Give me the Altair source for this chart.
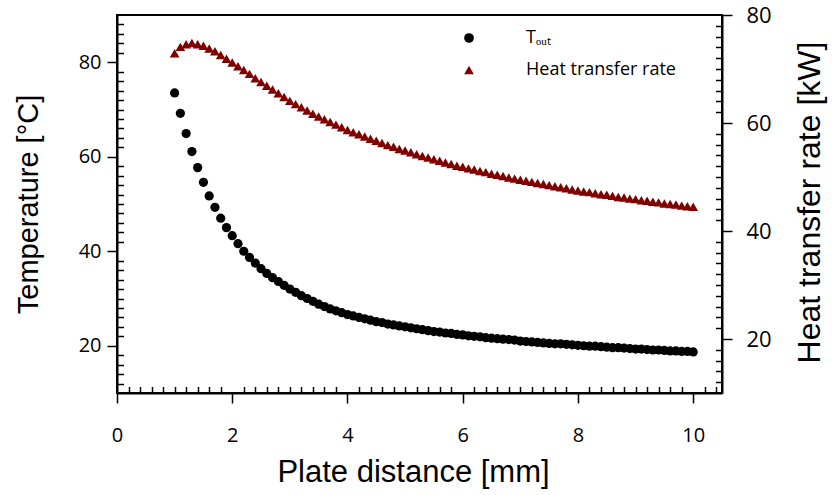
import altair as alt
import pandas as pd

# Plate distance [mm]
distance = [1.0, 1.1, 1.2, 1.3, 1.4, 1.5, 1.6, 1.7, 1.8, 1.9,
            2.0, 2.1, 2.2, 2.3, 2.4, 2.5, 2.6, 2.7, 2.8, 2.9,
            3.0, 3.1, 3.2, 3.3, 3.4, 3.5, 3.6, 3.7, 3.8, 3.9,
            4.0, 4.1, 4.2, 4.3, 4.4, 4.5, 4.6, 4.7, 4.8, 4.9,
            5.0, 5.1, 5.2, 5.3, 5.4, 5.5, 5.6, 5.7, 5.8, 5.9,
            6.0, 6.1, 6.2, 6.3, 6.4, 6.5, 6.6, 6.7, 6.8, 6.9,
            7.0, 7.1, 7.2, 7.3, 7.4, 7.5, 7.6, 7.7, 7.8, 7.9,
            8.0, 8.1, 8.2, 8.3, 8.4, 8.5, 8.6, 8.7, 8.8, 8.9,
            9.0, 9.1, 9.2, 9.3, 9.4, 9.5, 9.6, 9.7, 9.8, 9.9,
            10.0]

# T_out [°C]
t_out = [73.5, 69.2, 64.9, 61.1, 57.7, 54.6, 51.7, 49.3, 47.0, 45.0,
         43.3, 41.6, 40.0, 38.7, 37.5, 36.3, 35.3, 34.4, 33.6, 32.8,
         32.0, 31.3, 30.6, 30.0, 29.4, 28.8, 28.3, 27.8, 27.4, 27.0,
         26.6, 26.3, 26.0, 25.7, 25.4, 25.1, 24.9, 24.6, 24.4, 24.2,
         24.0, 23.8, 23.6, 23.4, 23.2, 23.0, 22.9, 22.7, 22.6, 22.4,
         22.3, 22.1, 22.0, 21.9, 21.7, 21.6, 21.5, 21.4, 21.3, 21.2,
         21.0, 20.9, 20.8, 20.7, 20.6, 20.5, 20.4, 20.4, 20.3, 20.2,
         20.1, 20.0, 19.9, 19.9, 19.8, 19.7, 19.6, 19.6, 19.5, 19.4,
         19.3, 19.3, 19.2, 19.1, 19.1, 19.0, 18.9, 18.9, 18.8, 18.8,
         18.7]

# Heat transfer rate [kW]
heat_rate = [72.9, 74.1, 74.6, 74.8, 74.6, 74.3, 73.8, 73.3, 72.6, 71.9,
             71.2, 70.5, 69.8, 69.1, 68.3, 67.6, 66.9, 66.2, 65.5, 64.8,
             64.1, 63.5, 62.9, 62.3, 61.7, 61.2, 60.7, 60.2, 59.7, 59.2,
             58.7, 58.3, 57.9, 57.5, 57.1, 56.7, 56.3, 55.9, 55.6, 55.2,
             54.9, 54.6, 54.2, 53.9, 53.6, 53.3, 53.0, 52.7, 52.4, 52.1,
             51.9, 51.6, 51.4, 51.1, 50.9, 50.6, 50.4, 50.2, 49.9, 49.7,
             49.5, 49.3, 49.1, 48.9, 48.7, 48.5, 48.3, 48.1, 47.9, 47.7,
             47.5, 47.3, 47.2, 47.0, 46.8, 46.7, 46.5, 46.3, 46.2, 46.0,
             45.9, 45.7, 45.6, 45.4, 45.3, 45.1, 45.0, 44.9, 44.7, 44.6,
             44.5]

series_names = ["Tₒᵤₜ", "Heat transfer rate"]
series_colors = ["#000000", "#800000"]
series_shapes = ["circle", "triangle-up"]

x_major = [0, 2, 4, 6, 8, 10]
x_minor = [round(0.2 * i, 1) for i in range(1, 53) if i % 10 != 0]
yl_major = [20, 40, 60, 80]
yl_minor = [v for v in range(12, 90, 2) if v % 20 != 0]
yr_major = [20, 40, 60, 80]
yr_minor = [v for v in range(12, 80, 2) if v % 20 != 0]

df_t = pd.DataFrame({"dist": distance, "val": t_out, "series": series_names[0]})
df_h = pd.DataFrame({"dist": distance, "val": heat_rate, "series": series_names[1]})

xscale = alt.Scale(domain=[0, 10.5], nice=False, zero=False)
yl_scale = alt.Scale(domain=[10, 90], nice=False, zero=False)
yr_scale = alt.Scale(domain=[10, 80], nice=False, zero=False)

legend_def = dict(title=None, orient="none", legendX=343, legendY=14,
                  labelFont="Open Sans", labelFontSize=18,
                  labelColor="black", labelOffset=48,
                  rowPadding=14, symbolSize=95,
                  symbolStrokeWidth=0, symbolOpacity=1)

color_enc = alt.Color("series:N",
                      scale=alt.Scale(domain=series_names, range=series_colors),
                      legend=alt.Legend(**legend_def))
shape_enc = alt.Shape("series:N",
                      scale=alt.Scale(domain=series_names, range=series_shapes),
                      legend=alt.Legend(**legend_def))

major_common = dict(tickSize=10, tickWidth=1.5, domainWidth=2, grid=False,
                    labelFont="Open Sans", titleFont="Liberation Sans",
                    titleFontWeight="normal", labelColor="black", titleColor="black",
                    tickColor="black", domainColor="black", labelFlush=False)

layer_t = alt.Chart(df_t).mark_point(filled=True, size=85, opacity=1).encode(
    x=alt.X("dist:Q", scale=xscale,
            axis=alt.Axis(orient="bottom", values=x_major, labelFontSize=20, labelPadding=22,
                          title="Plate distance [mm]", titleFontSize=31,
                          titleX=296, titleY=79, titleBaseline="middle", **major_common)),
    y=alt.Y("val:Q", scale=yl_scale,
            axis=alt.Axis(orient="left", values=yl_major, labelFontSize=20, labelPadding=6,
                          title="Temperature [°C]", titleFontSize=29, titleAngle=270,
                          titleX=-89, titleY=189, titleBaseline="middle", titleAlign="center",
                          **major_common)),
    color=color_enc, shape=shape_enc,
)

layer_h = alt.Chart(df_h).mark_point(filled=True, size=95, opacity=1).encode(
    x=alt.X("dist:Q", scale=xscale, axis=None),
    y=alt.Y("val:Q", scale=yr_scale,
            axis=alt.Axis(orient="right", values=yr_major, labelFontSize=22, labelPadding=14,
                          title="Heat transfer rate [kW]", titleFontSize=32, titleAngle=270,
                          titleX=87, titleY=187, titleBaseline="middle", titleAlign="center",
                          **major_common)),
    color=color_enc, shape=shape_enc,
)

minor_common = dict(tickSize=6.5, tickWidth=1.5, offset=-6.5, labels=False, domain=False,
                    grid=False, title=None, tickColor="black")

layer_minor_l = alt.Chart(df_t).mark_point(opacity=0).encode(
    x=alt.X("dist:Q", scale=xscale, axis=alt.Axis(orient="bottom", values=x_minor, **minor_common)),
    y=alt.Y("val:Q", scale=yl_scale, axis=alt.Axis(orient="left", values=yl_minor, **minor_common)),
)

layer_minor_r = alt.Chart(df_h).mark_point(opacity=0).encode(
    x=alt.X("dist:Q", scale=xscale, axis=None),
    y=alt.Y("val:Q", scale=yr_scale, axis=alt.Axis(orient="right", values=yr_minor, **minor_common)),
)

chart = alt.layer(layer_t, layer_h, layer_minor_l, layer_minor_r).resolve_scale(
    y="independent"
).resolve_axis(
    x="independent", y="independent"
).properties(
    width=605, height=378,
    autosize=alt.AutoSizeParams(type="none"),
    padding={"left": 117, "top": 15, "right": 110, "bottom": 102},
    background="white",
).configure_view(stroke="black", strokeWidth=2)

chart.save("out.html", embed_options={"renderer": "svg", "actions": False})
